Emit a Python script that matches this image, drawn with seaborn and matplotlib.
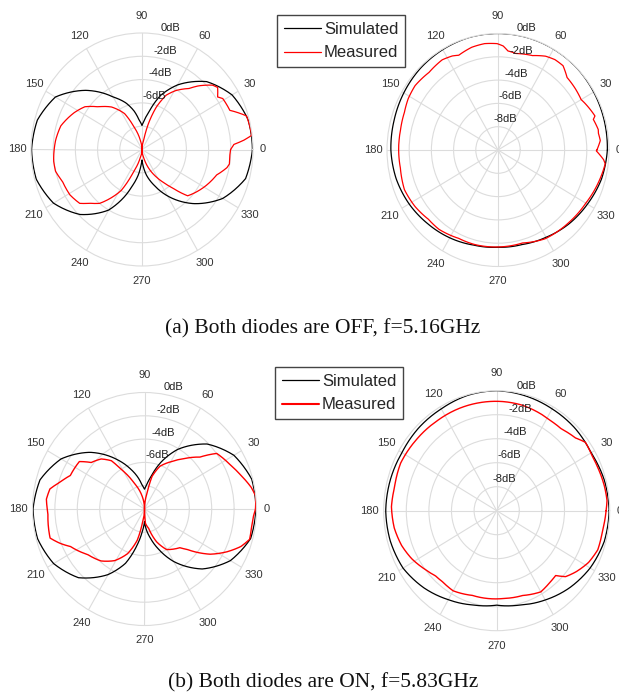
import numpy as np
import matplotlib
matplotlib.use("Agg")
import matplotlib.pyplot as plt
from matplotlib.lines import Line2D
import seaborn as sns

# ---------------------------------------------------------------------------
# Radiation patterns (angle in degrees, normalised gain in dB)
# ---------------------------------------------------------------------------
ring_values = [-8, -6, -4, -2]
theta_ticks = list(range(0, 360, 30))
series_names = ["Simulated", "Measured"]
captions = ["(a) Both diodes are OFF, f=5.16GHz",
            "(b) Both diodes are ON, f=5.83GHz"]

# (a) OFF state, E-plane (figure-eight)
off_e_sim_ang = [0, 15, 30, 45, 60, 70, 78, 84, 90, 96, 102, 110, 120, 135, 150, 165,
                 180, 195, 210, 225, 240, 250, 254, 262, 266, 270, 274, 280, 290,
                 300, 315, 330, 345, 360]
off_e_sim_db = [-0.05, -0.1, -0.63, -1.76, -3.6, -5.04, -6.54, -7.34, -7.93, -7.44,
                -6.64, -5.74, -4.8, -2.82, -0.99, -0.24, -0.05, -0.14, -0.79, -2.11,
                -4.0, -5.9, -6.7, -7.9, -8.6, -9.1, -8.6, -7.8, -6.7, -5.4, -3.43,
                -1.6, -0.34, -0.05]
off_e_meas_ang = [0, 3, 5, 7, 10, 17, 23, 31, 33.5, 38, 41, 47, 51, 59, 65, 70.5, 75.5,
                  79.5, 90, 100, 110.5, 117, 127, 137, 144.5, 152.5, 164.5, 174, 187,
                  193.5, 201, 211, 219.5, 224.5, 230.5, 242, 248.5, 257.5, 270, 282,
                  298.5, 305, 310, 316, 332, 342, 348.5, 351, 356, 360]
off_e_meas_db = [-2.02, -1.71, -0.78, -0.05, -0.07, -0.15, -1.4, -1.51, -1.83, -1.35,
                 -1.58, -2.53, -3.26, -4.1, -4.86, -6.14, -7.73, -9.21, -10.0, -9.3,
                 -7.93, -6.54, -5.43, -4.63, -3.68, -3.13, -2.41, -2.18, -1.98, -1.99,
                 -2.33, -2.43, -2.73, -3.42, -4.01, -6.02, -8.0, -9.3, -10.0, -9.3,
                 -7.33, -6.49, -5.67, -4.28, -3.44, -2.93, -2.19, -2.03, -2.08, -2.02]

# (a) OFF state, H-plane (near omni-directional)
off_h_sim_ang = [0, 15, 30, 45, 60, 75, 90, 105, 120, 135, 150, 165, 180, 195, 210,
                 225, 240, 255, 270, 285, 300, 315, 330, 345, 360]
off_h_sim_db = [-0.15, -0.1, -0.05, 0.0, 0.0, 0.0, 0.0, 0.0, -0.05, -0.1, -0.2, -0.3,
                -0.35, -0.5, -0.75, -1.05, -1.3, -1.55, -1.65, -1.6, -1.35, -1.0,
                -0.7, -0.35, -0.15]
off_h_meas_ang = [0, 5, 9, 11, 17, 18.5, 27.5, 30, 37, 45, 51, 56.5, 62, 69, 79, 84,
                  87, 90.5, 97.5, 105, 113.5, 117, 123, 133, 143.5, 151.5, 159, 169,
                  180, 190, 202, 213, 223.5, 232, 245, 255.5, 270, 285.5, 299, 315.5,
                  330, 345, 353, 355, 359.5, 360]
off_h_meas_db = [-1.09, -0.75, -0.84, -0.8, -1.02, -0.79, -1.22, -1.35, -1.27, -1.2,
                 -0.69, -0.7, -0.88, -1.32, -1.56, -1.45, -1.06, -0.87, -0.79, -0.87,
                 -1.13, -0.94, -0.77, -0.89, -0.71, -0.79, -0.97, -1.05, -1.05, -1.07,
                 -0.91, -1.09, -1.36, -1.36, -1.63, -1.62, -1.68, -1.72, -1.28, -1.09,
                 -0.87, -0.48, -0.27, -0.45, -1.14, -1.09]

# (b) ON state, E-plane (figure-eight)
on_e_sim_ang = [0, 15, 30, 45, 60, 70, 78, 84, 90, 96, 102, 110, 120, 135, 150, 165,
                180, 195, 210, 225, 240, 250, 258, 264, 270, 276, 282, 290, 300, 315,
                330, 345, 360]
on_e_sim_db = [-0.05, -0.09, -0.78, -2.11, -4.1, -5.74, -7.14, -7.84, -8.3, -7.94,
               -7.24, -6.34, -5.1, -3.12, -1.4, -0.34, -0.05, -0.12, -0.63, -1.66,
               -3.5, -5.04, -6.84, -8.03, -8.91, -8.13, -7.43, -6.33, -4.8, -2.72,
               -1.14, -0.19, -0.05]
on_e_meas_ang = [0, 6.5, 11, 18.5, 26, 36.5, 42, 49.5, 58, 69.5, 76.5, 80.5, 90, 100.5,
                 112.5, 121.5, 125.5, 132, 140, 145, 156.5, 163, 168.5, 174.5, 182.5,
                 196.5, 201.5, 206, 217.5, 229, 239, 248.5, 256.5, 261, 270, 274,
                 282.5, 291, 299.5, 313.5, 317.5, 326.5, 333.5, 339.5, 344.5, 350.5,
                 356, 360]
on_e_meas_db = [-0.09, -0.02, -0.29, -0.92, -1.44, -1.98, -3.34, -4.27, -5.16, -6.09,
                -7.13, -8.62, -10.0, -8.91, -7.61, -6.02, -4.91, -4.22, -3.79, -2.9,
                -2.78, -2.12, -1.38, -1.2, -1.37, -1.21, -1.93, -2.65, -3.59, -4.09,
                -4.83, -5.88, -7.26, -8.75, -10.0, -8.76, -8.3, -6.98, -6.0, -5.42,
                -4.88, -2.97, -1.77, -0.81, -0.26, -0.32, -0.27, -0.09]

# (b) ON state, H-plane (near omni-directional)
on_h_sim_ang = [0, 15, 30, 45, 60, 75, 90, 105, 120, 135, 150, 165, 180, 195, 210, 225,
                240, 255, 270, 285, 300, 315, 330, 345, 360]
on_h_sim_db = [-0.05, -0.14, -0.35, -0.24, -0.2, -0.1, 0.0, -0.05, -0.2, -0.24, -0.32,
               -0.24, -0.18, -0.25, -0.43, -0.9, -1.44, -1.87, -2.13, -1.87, -1.41,
               -0.9, -0.45, -0.14, -0.05]
on_h_meas_ang = [0, 5, 12, 21, 28, 36, 41, 50, 57, 68, 76, 86, 100, 112, 125, 140, 155,
                 168, 178, 189, 199, 208, 217, 225, 231, 240, 253, 275, 288, 300, 308,
                 314, 318, 324, 332, 340, 350, 360]
on_h_meas_db = [-0.32, -0.2, -0.25, -0.35, -0.4, -0.3, -0.76, -1.1, -1.11, -1.0, -0.92,
                -0.89, -0.87, -0.85, -0.84, -0.75, -0.62, -0.75, -0.68, -0.82, -1.1,
                -1.48, -1.96, -2.33, -2.38, -2.29, -2.62, -2.66, -2.57, -2.19, -2.39,
                -2.49, -1.79, -1.33, -0.8, -0.48, -0.49, -0.32]

# ---------------------------------------------------------------------------
sns.set_theme(style="white")
plt.rcParams["font.family"] = ["Liberation Sans", "DejaVu Sans"]

W, H = 619, 693
fig = plt.figure(figsize=(W / 100, H / 100), dpi=100)
fig.patch.set_facecolor("white")

GRID = "#dcdcdc"
SIM_COLOR = "#000000"
MEAS_COLOR = "#ff0000"
TICK_FS = 8


def polar_axes(cx, cy, rx, ry):
    ax = fig.add_axes([(cx - rx) / W, 1 - (cy + ry) / H, 2 * rx / W, 2 * ry / H],
                      projection="polar")
    return ax


def curved(line):
    # let the polar transform bend each segment instead of drawing chords
    line.get_path()._interpolation_steps = 24


def draw_panel(ax, sim_ang, sim_db, meas_ang, meas_db, labelled_rings, meas_lw):
    sns.lineplot(x=np.deg2rad(sim_ang), y=sim_db, ax=ax, color=SIM_COLOR,
                 lw=0.9, sort=False, estimator=None)
    sns.lineplot(x=np.deg2rad(meas_ang), y=meas_db, ax=ax, color=MEAS_COLOR,
                 lw=meas_lw, sort=False, estimator=None)
    for ln in ax.lines:
        curved(ln)
    ax.set_ylim(-10, 0)
    ax.set_rticks(ring_values)
    ax.set_yticklabels([])
    ax.set_thetagrids(theta_ticks, [""] * len(theta_ticks))
    ax.tick_params(axis="x", length=0)
    ax.grid(True, color=GRID, lw=0.8)
    ax.spines["polar"].set_color(GRID)
    ax.spines["polar"].set_linewidth(0.8)
    ax.set_xlabel("")
    ax.set_ylabel("")
    ax.set_facecolor("white")
    ax.set_aspect("auto")
    for t in theta_ticks:
        r_lab = 0.9 if t == 0 else (1.5 if t == 90 else 1.25)
        ax.text(np.deg2rad(t), r_lab, str(t), ha="center", va="center",
                fontsize=TICK_FS, color="#333333", clip_on=False)
    for v in labelled_rings:
        ax.text(np.deg2rad(76), v + 0.75, f"{v}dB", ha="center", va="center",
                fontsize=TICK_FS, color="#222222", clip_on=False)


ax_a1 = polar_axes(142, 149.5, 111, 116.5)
draw_panel(ax_a1, off_e_sim_ang, off_e_sim_db, off_e_meas_ang, off_e_meas_db,
           [0, -2, -4, -6], 0.9)
ax_a2 = polar_axes(498, 150, 111, 116.5)
draw_panel(ax_a2, off_h_sim_ang, off_h_sim_db, off_h_meas_ang, off_h_meas_db,
           [0, -2, -4, -6, -8], 0.9)
ax_b1 = polar_axes(144.5, 509, 112, 116.5)
draw_panel(ax_b1, on_e_sim_ang, on_e_sim_db, on_e_meas_ang, on_e_meas_db,
           [0, -2, -4, -6], 1.0)
ax_b2 = polar_axes(496.7, 510.7, 113, 120)
draw_panel(ax_b2, on_h_sim_ang, on_h_sim_db, on_h_meas_ang, on_h_meas_db,
           [0, -2, -4, -6, -8], 1.0)


def add_legend(x, y, meas_lw):
    handles = [Line2D([], [], color=SIM_COLOR, lw=0.9),
               Line2D([], [], color=MEAS_COLOR, lw=meas_lw)]
    leg = fig.legend(handles, series_names, loc="upper left",
                     bbox_to_anchor=(x / W, 1 - y / H), frameon=True, fancybox=False,
                     fontsize=12, handlelength=2.2, handletextpad=0.2,
                     borderpad=0.42, labelspacing=0.5, borderaxespad=0, framealpha=1)
    leg.get_frame().set_edgecolor("#444444")
    leg.get_frame().set_linewidth(1.0)
    return leg


add_legend(277, 15, 0.9)
add_legend(275, 367, 1.5)

serif = ["Liberation Serif", "DejaVu Serif"]
fig.text(323 / W, 1 - 329 / H, captions[0], ha="center", va="center",
         fontsize=15.5, family=serif, color="#111111")
fig.text(323.5 / W, 1 - 683 / H, captions[1], ha="center", va="center",
         fontsize=15.5, family=serif, color="#111111")

fig.savefig("out.png", dpi=100, facecolor="white")
